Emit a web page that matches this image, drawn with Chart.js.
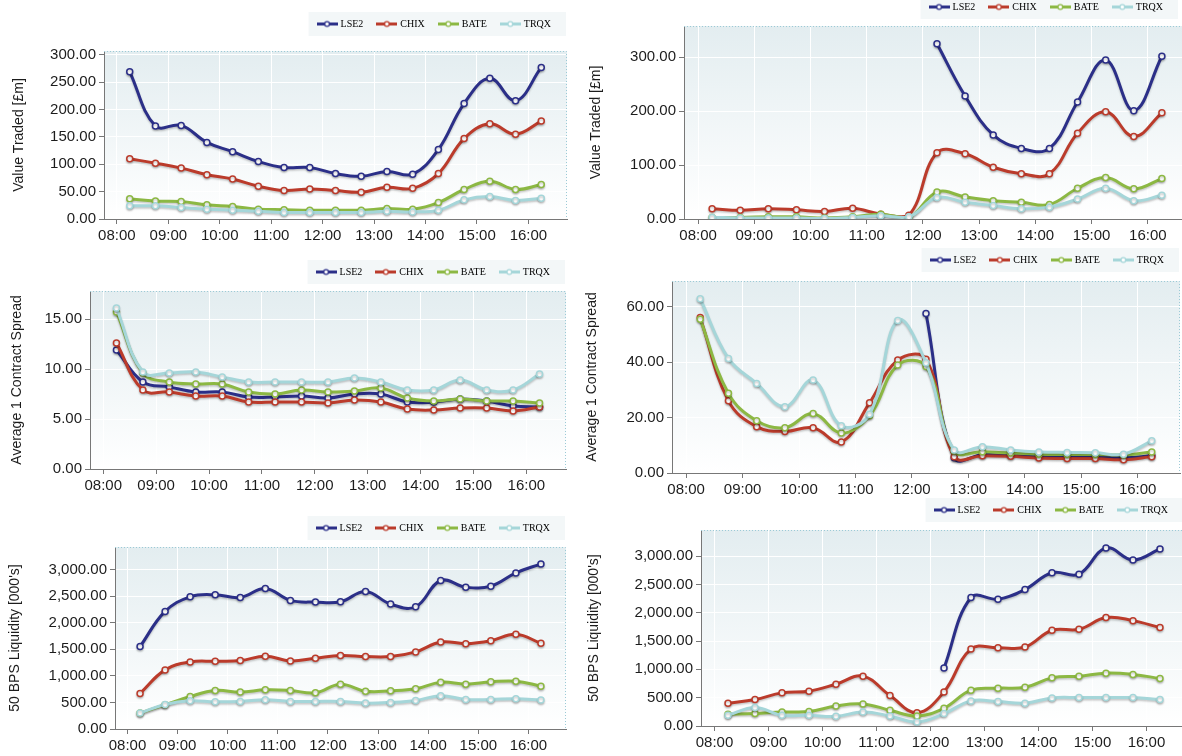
<!DOCTYPE html>
<html>
<head>
<meta charset="utf-8">
<title>Venue comparison</title>
<script src="https://cdn.jsdelivr.net/npm/chart.js@4.4.1/dist/chart.umd.min.js"></script>
<style>
html, body { margin: 0; padding: 0; background: #fff; overflow: hidden; }
body { width: 1182px; height: 756px; position: relative; }
canvas { position: absolute; }
</style>
</head>
<body>
<canvas id="c1"></canvas>
<canvas id="c2"></canvas>
<canvas id="c3"></canvas>
<canvas id="c4"></canvas>
<canvas id="c5"></canvas>
<canvas id="c6"></canvas>
<script>
// half-hour buckets, same for every panel
var times = ['08:15', '08:45', '09:15', '09:45', '10:15', '10:45', '11:15', '11:45', '12:15',
    '12:45', '13:15', '13:45', '14:15', '14:45', '15:15', '15:45', '16:15'];
var hourTicks = [8, 9, 10, 11, 12, 13, 14, 15, 16];
var venues = ['LSE2', 'CHIX', 'BATE', 'TRQX'];
var venueColors = ['#2b2f88', '#bb3b2b', '#8cb843', '#a5d6d9'];

// value traded (left / right)
var valueL_LSE2 = [269, 170, 171, 140, 123, 105, 94, 94, 83, 78, 87, 82, 127, 211, 257, 216, 277];
var valueL_CHIX = [110, 102, 93, 81, 73, 60, 52, 55, 52, 49, 58, 56, 83, 147, 174, 155, 179];
var valueL_BATE = [37, 33, 32, 26, 23, 18, 17, 16, 16, 16, 19, 18, 30, 54, 69, 54, 63];
var valueL_TRQX = [24, 24, 21, 18, 16, 14, 12, 12, 12, 12, 14, 13, 16, 35, 41, 34, 38];
var valueR_LSE2 = [null, null, null, null, null, null, null, null, 325, 228, 156, 131, 131, 217, 295, 201, 302];
var valueR_CHIX = [19, 16, 19, 17, 14, 20, 9, 7, 123, 121, 96, 84, 84, 159, 199, 153, 197];
var valueR_BATE = [3, 3, 4, 4, 2, 4, 9, 3, 50, 41, 34, 31, 27, 57, 77, 56, 75];
var valueR_TRQX = [3, 2, 2, 2, 1, 3, 6, 4, 40, 31, 25, 19, 22, 37, 57, 34, 44];
var valueL_ticks = [0, 50, 100, 150, 200, 250, 300];
var valueR_ticks = [0, 100, 200, 300];

// average 1 contract spread
var spreadL_LSE2 = [11.9, 8.7, 8.2, 7.7, 7.7, 7.2, 7.2, 7.3, 7.1, 7.5, 7.5, 6.7, 6.7, 7.0, 6.8, 6.3, 6.2];
var spreadL_CHIX = [12.6, 7.9, 7.7, 7.3, 7.3, 6.7, 6.7, 6.7, 6.6, 6.9, 6.7, 6.0, 5.9, 6.1, 6.1, 5.8, 6.2];
var spreadL_BATE = [15.7, 9.6, 8.7, 8.5, 8.5, 7.7, 7.5, 7.9, 7.7, 7.8, 8.1, 7.1, 6.8, 7.0, 6.8, 6.8, 6.6];
var spreadL_TRQX = [16.1, 9.7, 9.6, 9.7, 9.2, 8.7, 8.7, 8.7, 8.7, 9.1, 8.7, 7.9, 7.9, 8.9, 7.9, 7.9, 9.5];
var spreadR_LSE2 = [null, null, null, null, null, null, null, null, 57.5, 5.5, 6.6, 6.4, 6.0, 5.8, 5.7, 5.5, 6.2];
var spreadR_CHIX = [56, 26, 16.7, 15, 16.3, 11.2, 25.3, 40.7, 41, 5.9, 6.2, 6.0, 5.4, 5.2, 5.2, 4.8, 5.9];
var spreadR_BATE = [55.4, 28.7, 18.8, 16.3, 21.4, 14.4, 20.6, 38.9, 38.4, 7.9, 7.7, 7.2, 6.8, 6.7, 6.7, 6.5, 7.6];
var spreadR_TRQX = [62.8, 41.3, 32.3, 23.9, 33.5, 17, 21.2, 55, 39.7, 8.3, 9.5, 8.3, 7.6, 7.4, 7.3, 6.8, 11.6];
var spreadL_ticks = [0, 5, 10, 15];
var spreadR_ticks = [0, 20, 40, 60];

// 50 bps liquidity
var liqL_LSE2 = [1550, 2212, 2487, 2525, 2475, 2644, 2419, 2387, 2394, 2587, 2350, 2300, 2794, 2669, 2687, 2937, 3106];
var liqL_CHIX = [669, 1112, 1262, 1275, 1287, 1369, 1281, 1331, 1381, 1362, 1362, 1450, 1637, 1606, 1662, 1781, 1612];
var liqL_BATE = [300, 456, 612, 725, 694, 737, 725, 681, 844, 712, 719, 756, 881, 844, 887, 900, 806];
var liqL_TRQX = [300, 462, 531, 512, 519, 550, 519, 519, 519, 487, 500, 537, 625, 556, 556, 569, 544];
var liqR_LSE2 = [null, null, null, null, null, null, null, null, 1022, 2268, 2238, 2410, 2705, 2681, 3142, 2930, 3125];
var liqR_CHIX = [402, 467, 585, 614, 738, 880, 537, 236, 602, 1358, 1382, 1394, 1690, 1707, 1914, 1860, 1737];
var liqR_BATE = [207, 219, 248, 254, 354, 390, 278, 177, 313, 632, 667, 685, 850, 880, 933, 910, 839];
var liqR_TRQX = [189, 325, 189, 189, 171, 248, 177, 71, 219, 443, 431, 402, 496, 502, 502, 502, 467];
var liq_ticks = [0, 500, 1000, 1500, 2000, 2500, 3000];

var LEG_PAD = 15, LEG_FONT = 10, TITLE_SIZE = 14, TICK_SIZE = 15;
var AXIS_COL = '#777777', TEXT_COL = '#1c1c1c';

Chart.defaults.font.family = "'Liberation Sans', Arial, sans-serif";

function toHours(t) {
    var p = t.split(':');
    return +p[0] + p[1] / 60;
}

function fmt2(v) {
    return v.toLocaleString('en-US', { minimumFractionDigits: 2, maximumFractionDigits: 2 });
}

function hourLabel(v) {
    return (v < 10 ? '0' : '') + v + ':00';
}

// little line+circle glyph for the legend
function legendIcon(color) {
    var c = document.createElement('canvas');
    c.width = 21;
    c.height = 9;
    var g = c.getContext('2d');
    g.strokeStyle = color;
    g.lineWidth = 3;
    g.beginPath();
    g.moveTo(0, 4.5);
    g.lineTo(21, 4.5);
    g.stroke();
    g.fillStyle = '#fff';
    g.lineWidth = 1.3;
    g.beginPath();
    g.arc(10.5, 4.5, 2.4, 0, Math.PI * 2);
    g.fill();
    g.stroke();
    return c;
}
var legendIcons = venueColors.map(legendIcon);

var panels = [
    { id: 'c1', box: [0, 0, 590, 252], area: [104, 51, 567, 219], legY: 24, legEnd: 551, titleX: 19,
      yMax: 307, ticks: valueL_ticks, title: 'Value Traded [\u00a3m]',
      series: [valueL_LSE2, valueL_CHIX, valueL_BATE, valueL_TRQX] },
    { id: 'c2', box: [585, -13, 615, 265], area: [684, 26, 1190, 219], legY: 7, legEnd: 1163, titleX: 596,
      yMax: 358, ticks: valueR_ticks, title: 'Value Traded [\u00a3m]',
      series: [valueR_LSE2, valueR_CHIX, valueR_BATE, valueR_TRQX] },
    { id: 'c3', box: [0, 250, 590, 252], area: [90, 291, 566, 469], legY: 272, legEnd: 550, titleX: 17,
      yMax: 17.8, ticks: spreadL_ticks, title: 'Average 1 Contract Spread',
      series: [spreadL_LSE2, spreadL_CHIX, spreadL_BATE, spreadL_TRQX] },
    { id: 'c4', box: [582, 235, 618, 267], area: [672, 281, 1180, 473], legY: 260, legEnd: 1164, titleX: 592,
      yMax: 69.2, ticks: spreadR_ticks, title: 'Average 1 Contract Spread',
      series: [spreadR_LSE2, spreadR_CHIX, spreadR_BATE, spreadR_TRQX] },
    { id: 'c5', box: [0, 502, 590, 254], area: [115, 547, 566, 729], legY: 528, legEnd: 550, titleX: 15,
      yMax: 3424, ticks: liq_ticks, title: "50 BPS Liquidity [000's]",
      series: [liqL_LSE2, liqL_CHIX, liqL_BATE, liqL_TRQX] },
    { id: 'c6', box: [584, 488, 616, 268], area: [701, 530, 1187, 726], legY: 510, legEnd: 1168, titleX: 594,
      yMax: 3460, ticks: liq_ticks, title: "50 BPS Liquidity [000's]",
      series: [liqR_LSE2, liqR_CHIX, liqR_BATE, liqR_TRQX] }
];

var plotDecor = {
    id: 'plotDecor',
    beforeDraw: function(chart) {
        var a = chart.chartArea, ctx = chart.ctx;
        ctx.save();
        var gr = ctx.createLinearGradient(0, a.top, 0, a.bottom);
        gr.addColorStop(0, '#e3edf0');
        gr.addColorStop(1, '#ffffff');
        ctx.fillStyle = gr;
        ctx.fillRect(a.left, a.top, a.right - a.left, a.bottom - a.top);
        // legend strip
        var hb = chart.legend.legendHitBoxes;
        if (hb && hb.length) {
            var last = hb[hb.length - 1];
            var x0 = hb[0].left - 10, x1 = last.left + last.width + 15;
            var yc = hb[0].top + hb[0].height / 2;
            ctx.fillStyle = '#f3f7f8';
            ctx.fillRect(x0, yc - 12, x1 - x0, 24);
        }
        ctx.restore();
    },
    beforeDatasetsDraw: function(chart) {
        var a = chart.chartArea, ctx = chart.ctx;
        ctx.save();
        ctx.strokeStyle = '#9ccad6';
        ctx.lineWidth = 1;
        ctx.setLineDash([1, 2]);
        ctx.beginPath();
        ctx.moveTo(a.left, a.top + 0.5);
        ctx.lineTo(a.right - 0.5, a.top + 0.5);
        ctx.lineTo(a.right - 0.5, a.bottom);
        ctx.stroke();
        ctx.restore();
        // soft shadow under the series
        ctx.save();
        ctx.shadowColor = 'rgba(0,0,0,0.22)';
        ctx.shadowBlur = 2;
        ctx.shadowOffsetY = 1.5;
    },
    afterDatasetsDraw: function(chart) {
        chart.ctx.restore();
    }
};

function makeChart(p) {
    var cv = document.getElementById(p.id);
    var bx = p.box;
    cv.width = bx[2];
    cv.height = bx[3];
    cv.style.left = bx[0] + 'px';
    cv.style.top = bx[1] + 'px';

    var padTop = p.legY - bx[1] - (LEG_PAD + LEG_FONT / 2);
    var padLeft = p.titleX - bx[0] - TITLE_SIZE * 1.2 / 2;
    var padRight = bx[0] + bx[2] - p.area[2];
    var yW = p.area[0] - bx[0] - padLeft;
    var xH = bx[1] + bx[3] - p.area[3];
    var legH = p.area[1] - bx[1] - padTop;
    // never push the row past the right edge, or chart.js wraps the last item
    var legShift = Math.max(1, p.area[2] - LEG_PAD - p.legEnd);

    var legendFit = {
        id: 'legendFit',
        beforeInit: function(chart) {
            var lg = chart.legend;
            var fit = lg.fit;
            lg.fit = function() {
                fit.call(this);
                this.height = legH;
                if (this.lineWidths) this.lineWidths[0] += legShift;
            };
        }
    };

    var datasets = p.series.map(function(vals, i) {
        return {
            label: venues[i],
            data: times.map(function(t, k) { return { x: toHours(t), y: vals[k] }; }),
            borderColor: venueColors[i],
            backgroundColor: venueColors[i],
            borderWidth: 3,
            tension: 0.4,
            pointRadius: 3,
            pointBorderWidth: 1.5,
            pointBackgroundColor: '#ffffff',
            pointBorderColor: venueColors[i],
            order: 3 - i
        };
    });

    return new Chart(cv, {
        type: 'line',
        data: { datasets: datasets },
        plugins: [legendFit, plotDecor],
        options: {
            responsive: false,
            animation: false,
            devicePixelRatio: 1,
            layout: { padding: { top: padTop, left: padLeft, right: padRight, bottom: 0 } },
            plugins: {
                tooltip: { enabled: false },
                legend: {
                    position: 'top',
                    align: 'end',
                    labels: {
                        usePointStyle: true,
                        pointStyleWidth: 17,
                        padding: LEG_PAD,
                        color: '#111',
                        font: { family: "'Liberation Serif', 'Times New Roman', serif", size: LEG_FONT },
                        generateLabels: function(chart) {
                            return chart.data.datasets.map(function(ds, i) {
                                return { text: ds.label, pointStyle: legendIcons[i], fillStyle: ds.borderColor,
                                    strokeStyle: ds.borderColor, lineWidth: 0, hidden: false, datasetIndex: i };
                            });
                        }
                    }
                }
            },
            scales: {
                x: {
                    type: 'linear',
                    min: 7.75,
                    max: 16.75,
                    afterBuildTicks: function(s) {
                        s.ticks = hourTicks.map(function(v) { return { value: v }; });
                    },
                    afterFit: function(s) { s.height = xH; },
                    ticks: { callback: hourLabel, color: TEXT_COL, padding: 3, maxRotation: 0, autoSkip: false,
                        font: { size: TICK_SIZE } },
                    grid: { color: '#ffffff', lineWidth: 1, tickColor: AXIS_COL, tickLength: 5 },
                    border: { color: AXIS_COL, width: 1 }
                },
                y: {
                    min: 0,
                    max: p.yMax,
                    afterBuildTicks: function(s) {
                        s.ticks = p.ticks.map(function(v) { return { value: v }; });
                    },
                    afterFit: function(s) { s.width = yW; },
                    ticks: { callback: fmt2, color: TEXT_COL, padding: 3, font: { size: TICK_SIZE } },
                    grid: { color: '#ffffff', lineWidth: 1, tickColor: AXIS_COL, tickLength: 5 },
                    border: { color: AXIS_COL, width: 1 },
                    title: { display: true, text: p.title, color: TEXT_COL, padding: { top: 0, bottom: 0 },
                        font: { size: TITLE_SIZE } }
                }
            }
        }
    });
}

panels.forEach(makeChart);
</script>
</body>
</html>
